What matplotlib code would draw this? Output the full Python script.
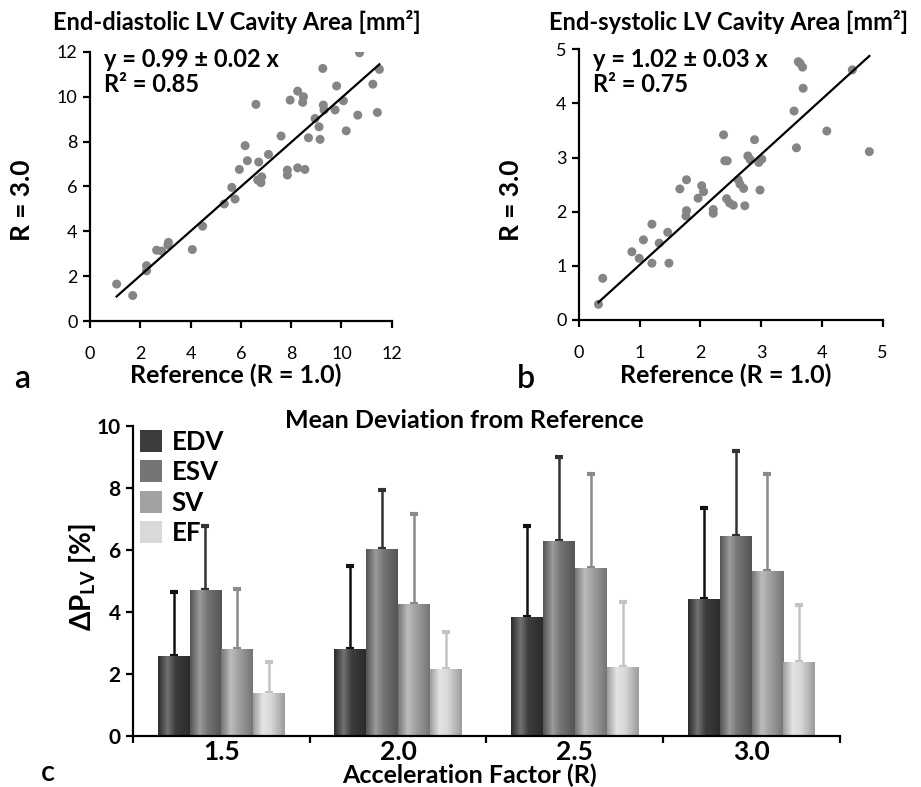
import numpy as np
import matplotlib
matplotlib.use("Agg")
import matplotlib.pyplot as plt
from matplotlib.colors import LinearSegmentedColormap, to_rgb

plt.rcParams['font.family'] = ['Lato', 'DejaVu Sans']
plt.rcParams['mathtext.fontset'] = 'custom'
plt.rcParams['mathtext.rm'] = 'Lato'

# panel a: end-diastolic area, reference vs R = 3.0
ed_ref = [1.06, 1.70, 2.25, 2.25, 2.65, 2.85, 3.12, 3.10, 4.07, 4.48, 5.34, 5.64,
          5.77, 5.94, 6.17, 6.26, 6.60, 6.71, 6.67, 6.80, 6.83, 7.10, 7.60, 7.85,
          7.85, 7.96, 8.26, 8.26, 8.49, 8.46, 8.55, 8.69, 8.95, 9.11, 9.15, 9.26,
          9.28, 9.31, 9.75, 9.81, 10.08, 10.19, 10.65, 10.72, 11.25, 11.43, 11.51]
ed_r3 = [1.65, 1.14, 2.47, 2.24, 3.16, 3.12, 3.51, 3.39, 3.19, 4.23, 5.22, 5.96,
         5.44, 6.76, 7.82, 7.15, 9.66, 7.09, 6.29, 6.17, 6.43, 7.43, 8.25, 6.51,
         6.73, 9.85, 10.25, 6.83, 10.00, 9.75, 6.76, 8.17, 9.03, 8.66, 8.10, 11.26,
         9.63, 9.41, 9.41, 10.48, 9.82, 8.48, 9.18, 11.96, 10.56, 9.30, 11.22]
ed_fit = (0.99, 0.05)

# panel b: end-systolic area
es_ref = [0.32, 0.39, 0.87, 0.99, 1.06, 1.20, 1.20, 1.32, 1.46, 1.48, 1.66, 1.77,
          1.77, 1.76, 1.96, 2.02, 2.05, 2.21, 2.21, 2.38, 2.40, 2.44, 2.43, 2.48,
          2.54, 2.62, 2.65, 2.71, 2.73, 2.78, 2.82, 2.89, 2.96, 3.01, 2.98, 3.54,
          3.58, 4.08, 3.61, 3.64, 3.68, 3.69, 4.50, 4.78]
es_r3 = [0.29, 0.77, 1.26, 1.14, 1.48, 1.77, 1.05, 1.42, 1.62, 1.05, 2.42, 2.59,
         2.02, 1.92, 2.25, 2.48, 2.37, 2.04, 1.97, 3.42, 2.94, 2.94, 2.24, 2.16,
         2.12, 2.59, 2.51, 2.43, 2.11, 3.03, 2.96, 3.33, 2.91, 2.97, 2.40, 3.86,
         3.18, 3.49, 4.77, 4.74, 4.67, 4.28, 4.62, 3.11]
es_fit = (1.02, 0.0)

# panel c: mean deviation per acceleration factor
factors = ['1.5', '2.0', '2.5', '3.0']
params = ['EDV', 'ESV', 'SV', 'EF']
means = {'EDV': [2.58, 2.81, 3.82, 4.40],
         'ESV': [4.70, 6.03, 6.28, 6.44],
         'SV': [2.81, 4.24, 5.40, 5.32],
         'EF': [1.37, 2.15, 2.23, 2.37]}
sds = {'EDV': [2.05, 2.67, 2.93, 2.94],
       'ESV': [2.05, 1.90, 2.72, 2.74],
       'SV': [1.93, 2.90, 3.04, 3.12],
       'EF': [1.01, 1.21, 2.07, 1.85]}

bar_cols = {'EDV': '#3c3c3c', 'ESV': '#757575', 'SV': '#a2a2a2', 'EF': '#d9d9d9'}
err_cols = {'EDV': '#111111', 'ESV': '#333333', 'SV': '#8a8a8a', 'EF': '#c4c4c4'}


fig = plt.figure(figsize=(9.21, 7.87), dpi=100)


def scatter_panel(rect, xs, ys, fit, lim, step, title, eq, r2, tx, letter, lx):
    ax = fig.add_axes(rect)
    ax.scatter(xs, ys, s=42, color='#858585', edgecolors='none', zorder=3)
    xx = np.array([min(xs), max(xs)])
    ax.plot(xx, fit[0] * xx + fit[1], color='black', lw=1.6, zorder=4)
    ax.set_xlim(0, lim)
    ax.set_ylim(0, lim)
    ticks = np.arange(0, lim + 0.01, step)
    ax.set_xticks(ticks)
    ax.set_yticks(ticks)
    ax.set_xticklabels([f'{t:g}' for t in ticks], fontsize=13)
    ax.set_yticklabels([f'{t:g}' for t in ticks], fontsize=13)
    for s in ['top', 'right']:
        ax.spines[s].set_visible(False)
    for s in ['left', 'bottom']:
        ax.spines[s].set_linewidth(1.6)
    ax.tick_params(axis='x', direction='out', length=5, width=1.6, pad=13)
    ax.tick_params(axis='y', direction='out', length=5, width=1.6, pad=4)
    cx = rect[0] + rect[2] / 2
    fig.text(tx, 0.972, title, ha='center', va='center', fontsize=17, fontweight='bold')
    fig.text(rect[0] + 0.015, 0.924, eq, ha='left', va='center', fontsize=17, fontweight='bold')
    fig.text(rect[0] + 0.015, 0.892, r2, ha='left', va='center', fontsize=17, fontweight='bold')
    fig.text(cx - 0.006, 0.5235, 'Reference (R = 1.0)', ha='center', va='center',
             fontsize=18, fontweight='bold')
    fig.text(rect[0] - 0.074, 0.746, 'R = 3.0', ha='center', va='center', rotation=90,
             fontsize=19, fontweight='bold')
    fig.text(lx, 0.518, letter, ha='center', va='center', fontsize=23, fontweight='semibold')
    return ax


scatter_panel([0.0977, 0.592, 0.3276, 0.3421], ed_ref, ed_r3, ed_fit, 12, 2,
              'End-diastolic LV Cavity Area [mm²]', 'y = 0.99 ± 0.02 x',
              'R² = 0.85', 0.2568, 'a', 0.024)
scatter_panel([0.6287, 0.5934, 0.3297, 0.3440], es_ref, es_r3, es_fit, 5, 1,
              'End-systolic LV Cavity Area [mm²]', 'y = 1.02 ± 0.03 x',
              'R² = 0.75', 0.7915, 'b', 0.571)

# bar chart
ax = fig.add_axes([0.1444, 0.0652, 0.7676, 0.3939])
x = np.arange(len(factors))
w = 0.18
offs = [-1.5 * w, -0.5 * w, 0.5 * w, 1.5 * w]
for p, o in zip(params, offs):
    bars = ax.bar(x + o, means[p], w, color=bar_cols[p], label=p, zorder=2)
    ax.errorbar(x + o, means[p], yerr=[np.zeros(4), sds[p]], fmt='none',
                ecolor=err_cols[p], elinewidth=1.8, capsize=3, capthick=3, zorder=1)
    base = np.array(to_rgb(bar_cols[p]))
    dark = np.clip(base * 0.72, 0, 1)
    light = np.clip(base + (1 - base) * 0.28, 0, 1)
    cmap = LinearSegmentedColormap.from_list(p, [(0, dark), (0.3, light), (0.55, base), (1, dark)])
    for b in bars:
        x0, y0 = b.get_x(), b.get_y()
        im = ax.imshow(np.linspace(0, 1, 64).reshape(1, -1), cmap=cmap, aspect='auto',
                       extent=[x0, x0 + b.get_width(), y0, y0 + b.get_height()],
                       zorder=2.5, interpolation='bilinear')
        im.set_clip_path(b)

ax.set_xlim(-0.5, 3.5)
ax.set_ylim(0, 10)
ax.set_yticks(range(0, 11, 2))
ax.set_yticklabels([str(v) for v in range(0, 11, 2)], fontsize=15, fontweight='bold')
ax.set_xticks(np.arange(-0.5, 3.6, 1))
ax.set_xticklabels([])
ax.set_xticks(x, minor=True)
ax.set_xticklabels(factors, minor=True, fontsize=19, fontweight='bold')
ax.tick_params(axis='x', which='minor', length=0, pad=3)
ax.tick_params(axis='x', which='major', direction='out', length=5, width=1.6)
ax.tick_params(axis='y', direction='out', length=5, width=1.6, pad=4)
for s in ['top', 'right']:
    ax.spines[s].set_visible(False)
for s in ['left', 'bottom']:
    ax.spines[s].set_linewidth(1.6)

leg = ax.legend(loc='upper left', bbox_to_anchor=(-0.005, 1.02), frameon=False,
                borderpad=0.2, borderaxespad=0.2,
                handlelength=0.85, handleheight=0.95, handletextpad=0.4, labelspacing=0.25,
                prop={'size': 18.5, 'weight': 'bold'})

fig.text(0.504, 0.4663, 'Mean Deviation from Reference', ha='center', va='center',
         fontsize=18, fontweight='bold')
fig.text(0.510, 0.0152, 'Acceleration Factor (R)', ha='center', va='center',
         fontsize=18, fontweight='bold')
fig.text(0.090, 0.267, r'ΔP$_{\mathregular{LV}}$ [%]', ha='center', va='center',
         rotation=90, fontsize=20, fontweight='bold')
fig.text(0.052, 0.018, 'c', ha='center', va='center', fontsize=21, fontweight='semibold')

fig.savefig('out.png', dpi=100)
